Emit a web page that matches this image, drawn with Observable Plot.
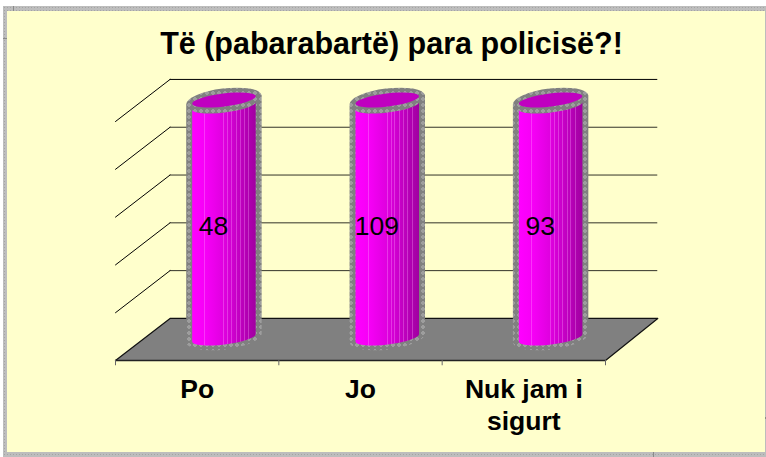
<!DOCTYPE html>
<html><head><meta charset="utf-8">
<script src="https://cdn.jsdelivr.net/npm/d3@7"></script>
<script src="https://cdn.jsdelivr.net/npm/@observablehq/plot@0.6"></script>
<style>
html,body{margin:0;padding:0;background:#fff;overflow:hidden}
#border{position:absolute;left:3px;top:6px;width:763px;height:451px;
 background-color:#bdbdbd;background-image:radial-gradient(#a4a4a4 35%,transparent 40%);background-size:3px 3px}
#panel{position:absolute;left:7px;top:11px;width:758px;height:441px;background:#ffffcc}
#chart{position:absolute;left:0;top:0}
.h{position:absolute;background:#8a8a8a}
</style></head><body>
<div id="border"></div><div id="panel"></div>
<div class="h" style="left:13px;top:6px;width:1px;height:5px"></div>
<div class="h" style="left:3px;top:38px;width:4px;height:1px"></div>
<div class="h" style="left:653px;top:452px;width:1px;height:5px"></div>
<div class="h" style="left:765px;top:417px;width:1px;height:2px"></div>
<div id="chart"></div>
<script>
const title = "Të (pabarabartë) para policisë?!";
const categories = ["Po", "Jo", "Nuk jam i\nsigurt"];
const values = [48, 109, 93];
const gridTicks = [20, 40, 60, 80, 100];
const floorLevel = 0;
const fullBar = 100;
const depthX = 0.334, depthY = 17.6, backX = 3.32;

const rows = categories.map((c, i) => ({c, i, value: values[i]}));
const floor = [[0,0],[depthX,depthY],[backX,depthY],[3,0],[0,0]];

function defs(){
  const g = d3.create("svg:defs");
  const p = g.append("pattern").attr("id","dots").attr("width",6).attr("height",6)
    .attr("patternUnits","userSpaceOnUse");
  p.append("rect").attr("width",6).attr("height",6).attr("fill","#808080");
  p.append("circle").attr("cx",3).attr("cy",3).attr("r",1.3).attr("fill","none")
    .attr("stroke","#bdbdbd").attr("stroke-width",.8);
  const lg = g.append("linearGradient").attr("id","cyl");
  const base = t => d3.interpolateRgbBasis(["#ff00ff","#f400f4","#cc00cc","#a000a0"])(t);
  const stripes = [.2,.5,.56,.62,.69,.76,.82,.89];
  const stops = [[0,base(0)]];
  for (const s of stripes){
    const c = base(s), l = d3.interpolateRgb(c,"#ffb0ff")(.3);
    stops.push([s-.008,c],[s-.008,l],[s+.008,l],[s+.008,c]);
  }
  stops.push([1,base(1)]);
  for (const [o,c] of stops) lg.append("stop").attr("offset",o).attr("stop-color",c);
  return g.node();
}

function cylinders(index, {x, y}){
  const g = d3.create("svg:g");
  const tilt = -7, rx = 32, ry = 6.5, orx = 38, ory = 11.5;
  const sx = Math.cos(tilt*Math.PI/180), sy = Math.sin(tilt*Math.PI/180);
  for (const r of rows){
    const cx = x(r.i + .5 + depthX/2);
    const top = y(fullBar + depthY/2) , bot = y(depthY/2) - 1;
    const shape = (a, by, dt) =>
      `M${cx-a*sx},${top+dt-a*sy}L${cx-a*sx},${bot-a*sy}`+
      `A${a},${by} ${tilt} 0 0 ${cx+a*sx},${bot+a*sy}`+
      `L${cx+a*sx},${top+dt+a*sy}`;
    g.append("path").attr("fill","url(#dots)")
      .attr("d", shape(orx,ory,0)+`A${orx},${ory} ${tilt} 0 0 ${cx-orx*sx},${top-orx*sy}Z`);
    g.append("path").attr("fill","url(#cyl)")
      .attr("d", shape(rx,ry,6)+`A${rx},${ry} ${tilt} 0 1 ${cx-rx*sx},${top+6-rx*sy}Z`);
    g.append("ellipse").attr("cx",cx).attr("cy",top).attr("rx",rx).attr("ry",ry)
      .attr("transform",`rotate(${tilt} ${cx} ${top})`).attr("fill","#c000c0");
  }
  return g.node();
}

const chart = Plot.plot({
  width: 766, height: 457, margin: 0,
  style: {background: "transparent", fontFamily: "'Liberation Sans', Arial, sans-serif"},
  x: {domain: [0, 3], range: [115, 605], axis: null},
  y: {domain: [0, 100], range: [360, 121], axis: null},
  marks: [
    defs,
    Plot.ruleY(gridTicks, {x1: depthX, x2: backX, y: d => d + depthY, stroke: d => d === 100 ? "#000" : "#333328", strokeWidth: 1}),
    ...gridTicks.map(t => Plot.line([[0,t],[depthX,t+depthY]], {stroke: "#000", strokeWidth: 1})),
    Plot.line(floor, {fill: "#808080", stroke: "none"}),
    Plot.line(floor.slice(0,4), {stroke: "#111", strokeWidth: 1.2}),
    Plot.ruleY([floorLevel], {x1: 0, x2: 3, stroke: "#222", strokeWidth: 1.5}),
    Plot.ruleX([0,1,2,3], {y1: 0, y2: -2.2, stroke: "#666", strokeWidth: 1}),
    cylinders,
    Plot.text(rows, {x: d => d.i + .6, y: 56, text: d => String(d.value), fontSize: 26.5, fill: "#000"}),
    Plot.text(rows, {x: d => d.i + .5, y: -6.2, text: "c", fontSize: 26.5, fontWeight: "bold", lineHeight: 1.2, textAnchor: "middle", lineAnchor: "top", fill: "#000"}),
    Plot.text([title], {frameAnchor: "top", dy: 32, dx: 8, text: d => d, fontSize: 30.5, fontWeight: "bold", lineAnchor: "top", fill: "#000"})
  ]
});
document.getElementById("chart").appendChild(chart);
</script></body></html>
